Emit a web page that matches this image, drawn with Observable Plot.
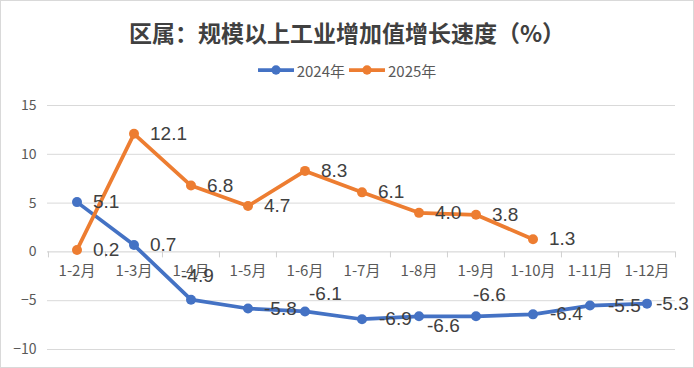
<!DOCTYPE html>
<html>
<head>
<meta charset="utf-8">
<script src="https://cdn.jsdelivr.net/npm/d3@7"></script>
<script src="https://cdn.jsdelivr.net/npm/@observablehq/plot@0.6"></script>
<style>
  html, body { margin: 0; padding: 0; background: #fff; }
  #frame { position: relative; width: 694px; height: 368px; overflow: hidden; background: #fff; }
  #border { position: absolute; left: 0; top: 0; width: 694px; height: 368px; box-sizing: border-box; border: 1px solid #d9d9d9; pointer-events: none; }
  #title { position: absolute; left: 0; top: 16px; width: 694px; text-align: center; font-family: "Noto Sans CJK SC", sans-serif; font-weight: 700; font-size: 23px; line-height: 32px; color: #404040; }
  #legend { position: absolute; left: 0; top: 60px; width: 694px; height: 20px; display: flex; justify-content: center; align-items: center; font-family: "Noto Sans CJK SC", sans-serif; font-size: 15px; color: #595959; }
  .item { display: flex; align-items: center; margin: 0 2px; }
  .item svg { margin-right: 3px; }
  #chart { position: absolute; left: 0; top: 85px; }
</style>
</head>
<body>
<div id="frame">
  <div id="title">区属：规模以上工业增加值增长速度（%）</div>
  <div id="legend"></div>
  <div id="chart"></div>
  <div id="border"></div>
</div>
<script>
// ---- data ----
const categories = ["1-2月", "1-3月", "1-4月", "1-5月", "1-6月", "1-7月", "1-8月", "1-9月", "1-10月", "1-11月", "1-12月"];
const values2024 = [5.1, 0.7, -4.9, -5.8, -6.1, -6.9, -6.6, -6.6, -6.4, -5.5, -5.3];
const values2025 = [0.2, 12.1, 6.8, 4.7, 8.3, 6.1, 4.0, 3.8, 1.3];
const seriesNames = ["2024年", "2025年"];
const yTicks = [-10, -5, 0, 5, 10, 15];

// ---- label nudges (layout only) ----
const nudge2024 = [[16, 0], [16, 0], [-10, -24], [16, 0], [4, -18], [17, 0], [8, 10], [-3, -21], [17, 0], [18, 0], [9, 0]];
const nudge2025 = [[16, 0], [16, 0], [16, 0], [16, 0], [16, 0], [16, 0], [16, 0], [16, 0], [16, 0]];

const colors = ["#4472C4", "#ED7D31"];

const rows = [];
values2024.forEach((v, i) => rows.push({series: seriesNames[0], cat: categories[i], value: v, dx: nudge2024[i][0], dy: nudge2024[i][1]}));
values2025.forEach((v, i) => rows.push({series: seriesNames[1], cat: categories[i], value: v, dx: nudge2025[i][0], dy: nudge2025[i][1]}));

// legend
const legend = document.getElementById("legend");
seriesNames.forEach((name, i) => {
  const item = document.createElement("div");
  item.className = "item";
  item.innerHTML = `<svg width="36" height="12"><line x1="1" y1="6" x2="35" y2="6" stroke="${colors[i]}" stroke-width="3.75" stroke-linecap="round"/><circle cx="18" cy="6" r="4.7" fill="${colors[i]}"/></svg><span>${name}</span>`;
  legend.appendChild(item);
});

const W = 694, H = 283, ML = 47, MR = 19, MT = 20, MB = 19;
const bw = (W - ML - MR) / categories.length;
const pxPerUnit = (H - MT - MB) / (yTicks[yTicks.length - 1] - yTicks[0]);
const tickLen = 6 / pxPerUnit;

const labelFont = "'Liberation Sans Narrow', 'Liberation Sans', sans-serif";

const marks = [
  Plot.ruleY(yTicks.filter(d => d !== 0), {stroke: "#d9d9d9", strokeWidth: 1}),
  Plot.ruleY([0], {stroke: "#d0d0d0", strokeWidth: 1}),
  Plot.ruleX(categories, {x: d => d, y1: 0, y2: -tickLen, dx: -bw / 2, stroke: "#d0d0d0"}),
  Plot.ruleX([categories[categories.length - 1]], {x: d => d, y1: 0, y2: -tickLen, dx: bw / 2, stroke: "#d0d0d0"}),
  Plot.text(categories, {x: d => d, y: 0, text: d => d, dy: 19, fill: "#595959", fontSize: 15, fontFamily: "'Noto Sans CJK SC', sans-serif"}),
];
seriesNames.forEach((name, i) => {
  const data = rows.filter(r => r.series === name);
  marks.push(
    Plot.line(data, {x: "cat", y: "value", stroke: colors[i], strokeWidth: 3.75, strokeLinejoin: "round", strokeLinecap: "round"}),
    Plot.dot(data, {x: "cat", y: "value", r: 5, fill: colors[i], stroke: "none"})
  );
});
seriesNames.forEach((name) => {
  const data = rows.filter(r => r.series === name);
  data.forEach(d => {
    marks.push(Plot.text([d], {x: "cat", y: "value", text: r => r.value.toFixed(1), dx: d.dx, dy: d.dy, textAnchor: "start", lineAnchor: "middle", fill: "#404040", fontSize: 19, fontFamily: labelFont}));
  });
});

const chart = Plot.plot({
  width: W,
  height: H,
  marginLeft: ML,
  marginRight: MR,
  marginTop: MT,
  marginBottom: MB,
  style: {fontSize: "14px", fontFamily: "'Noto Sans CJK SC', sans-serif", color: "#595959", background: "transparent"},
  x: {type: "band", domain: categories, padding: 0, axis: null},
  y: {domain: [yTicks[0], yTicks[yTicks.length - 1]], ticks: yTicks, tickSize: 0, tickPadding: 11, label: null},
  marks
});
document.getElementById("chart").appendChild(chart);
</script>
</body>
</html>
